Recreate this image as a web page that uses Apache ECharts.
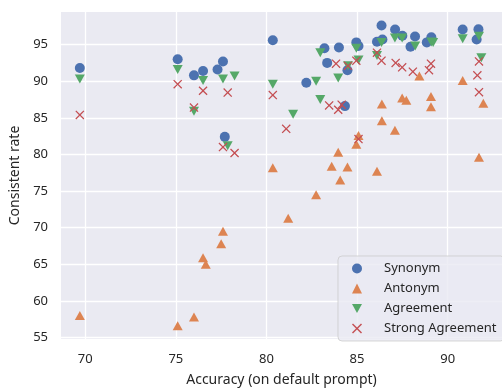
<!DOCTYPE html>
<html>
<head>
<meta charset="utf-8">
<script src="https://cdn.jsdelivr.net/npm/echarts@6/dist/echarts.min.js"></script>
<style>html,body{margin:0;padding:0;background:#fff;}#c{width:502px;height:392px;}</style>
</head>
<body>
<div id="c"></div>
<script>
const seriesNames = ['Synonym', 'Antonym', 'Agreement', 'Strong Agreement'];
const xTicks = [70, 75, 80, 85, 90];
const yTicks = [55, 60, 65, 70, 75, 80, 85, 90, 95];

const synonymX = [69.7, 75.1, 76.0, 76.5, 77.3, 77.6, 77.7, 80.35, 82.2, 83.2, 83.35, 84.0, 84.33, 84.47, 84.96, 85.08, 86.1, 86.35, 86.4, 87.1, 87.5, 87.95, 88.2, 88.85, 89.1, 90.83, 91.6, 91.7];
const synonymY = [91.8, 93.0, 90.8, 91.4, 91.6, 92.7, 82.4, 95.6, 89.8, 94.5, 92.5, 94.6, 86.6, 91.5, 95.3, 94.8, 95.4, 97.6, 95.7, 97.05, 96.2, 94.7, 96.1, 95.3, 96.0, 97.05, 95.7, 97.1];

const antonymX = [69.7, 75.1, 76.0, 76.5, 76.65, 77.5, 77.6, 80.35, 81.2, 82.74, 83.6, 83.96, 84.07, 84.47, 84.96, 85.08, 86.1, 86.37, 86.37, 87.09, 87.49, 87.72, 88.44, 89.08, 89.08, 90.83, 91.73, 91.97];
const antonymY = [58.0, 56.6, 57.8, 65.9, 65.0, 67.8, 69.5, 78.2, 71.3, 74.5, 78.4, 80.3, 76.5, 78.3, 81.4, 82.6, 77.7, 86.9, 84.6, 83.3, 87.7, 87.4, 90.7, 87.9, 86.5, 90.1, 79.6, 87.0];

const agreementX = [69.7, 75.1, 76.0, 76.5, 77.6, 77.86, 78.24, 80.35, 81.47, 82.74, 82.97, 82.97, 83.96, 84.5, 84.96, 85.08, 86.1, 86.35, 87.09, 87.49, 88.21, 89.1, 89.2, 90.83, 91.73, 91.86];
const agreementY = [90.3, 91.6, 85.9, 90.1, 90.3, 81.2, 90.7, 89.6, 85.5, 90.0, 87.5, 93.9, 90.45, 92.1, 94.5, 92.9, 93.5, 95.3, 95.9, 95.9, 94.8, 95.35, 95.3, 95.8, 96.15, 93.2];

const strongX = [69.7, 75.1, 76.0, 76.5, 77.6, 77.86, 78.24, 80.35, 81.09, 83.46, 83.84, 83.96, 84.15, 84.5, 84.96, 85.08, 86.1, 86.35, 87.13, 87.49, 88.08, 88.97, 89.08, 91.64, 91.73, 91.73];
const strongY = [85.4, 89.6, 86.4, 88.7, 81.0, 88.45, 80.2, 88.1, 83.5, 86.7, 92.4, 86.1, 86.8, 92.1, 92.8, 82.1, 93.9, 92.8, 92.5, 91.9, 91.3, 91.5, 92.4, 90.8, 92.7, 88.5];

const pairs = (xs, ys) => xs.map((x, i) => [x, ys[i]]);
const FONT = 'Noto Sans';
const TXT = '#262626';
const X_PATH = 'path://M1,0 L5,4 L9,0 L10,1 L6,5 L10,9 L9,10 L5,6 L1,10 L0,9 L4,5 L0,1 Z';
const DOWN_PATH = 'path://M0,0 L10,0 L5,9 Z';

const chart = echarts.init(document.getElementById('c'), null, {renderer: 'canvas'});
chart.setOption({
  animation: false,
  backgroundColor: '#ffffff',
  grid: {left: 61, right: -8, top: 12, bottom: 46, show: true, backgroundColor: '#EAEAF2', borderWidth: 0},
  xAxis: {
    type: 'value', min: 68.66, max: 93.0,
    name: 'Accuracy (on default prompt)', nameLocation: 'middle', nameGap: 34,
    nameTextStyle: {fontFamily: FONT, fontSize: 14, color: TXT},
    axisLine: {show: false}, axisTick: {show: false, customValues: xTicks},
    axisLabel: {customValues: xTicks, fontFamily: FONT, fontSize: 13, color: TXT, margin: 14},
    splitLine: {show: true, lineStyle: {color: '#ffffff', width: 1.3}}
  },
  yAxis: {
    type: 'value', min: 54.8, max: 99.45,
    name: 'Consistent rate', nameLocation: 'middle', nameGap: 38,
    nameTextStyle: {fontFamily: FONT, fontSize: 14, color: TXT},
    axisLine: {show: false}, axisTick: {show: false, customValues: yTicks},
    axisLabel: {customValues: yTicks, fontFamily: FONT, fontSize: 13, color: TXT, margin: 13},
    splitLine: {show: true, lineStyle: {color: '#ffffff', width: 1.3}}
  },
  legend: {
    orient: 'vertical', left: 338, top: 256,
    width: 162,
    padding: [6, 8, 6, 14],
    itemWidth: 10, itemHeight: 10, itemGap: 7,
    backgroundColor: 'rgba(234,234,242,0.8)',
    borderColor: 'rgba(204,204,204,0.8)', borderWidth: 1, borderRadius: 4,
    textStyle: {fontFamily: FONT, fontSize: 13, color: TXT, padding: [0, 0, 0, 17]},
    data: seriesNames
  },
  series: [
    {name: seriesNames[0], type: 'scatter', symbol: 'circle', symbolSize: 10,
     itemStyle: {color: '#4C72B0', opacity: 1}, data: pairs(synonymX, synonymY)},
    {name: seriesNames[1], type: 'scatter', symbol: 'triangle', symbolSize: [10, 9],
     itemStyle: {color: '#DD8452', opacity: 1}, data: pairs(antonymX, antonymY)},
    {name: seriesNames[2], type: 'scatter', symbol: DOWN_PATH, symbolSize: [10, 9],
     itemStyle: {color: '#55A868', opacity: 1}, data: pairs(agreementX, agreementY)},
    {name: seriesNames[3], type: 'scatter', symbol: X_PATH, symbolSize: 9,
     itemStyle: {color: '#C44E52', opacity: 1}, data: pairs(strongX, strongY)}
  ]
});
</script>
</body>
</html>
